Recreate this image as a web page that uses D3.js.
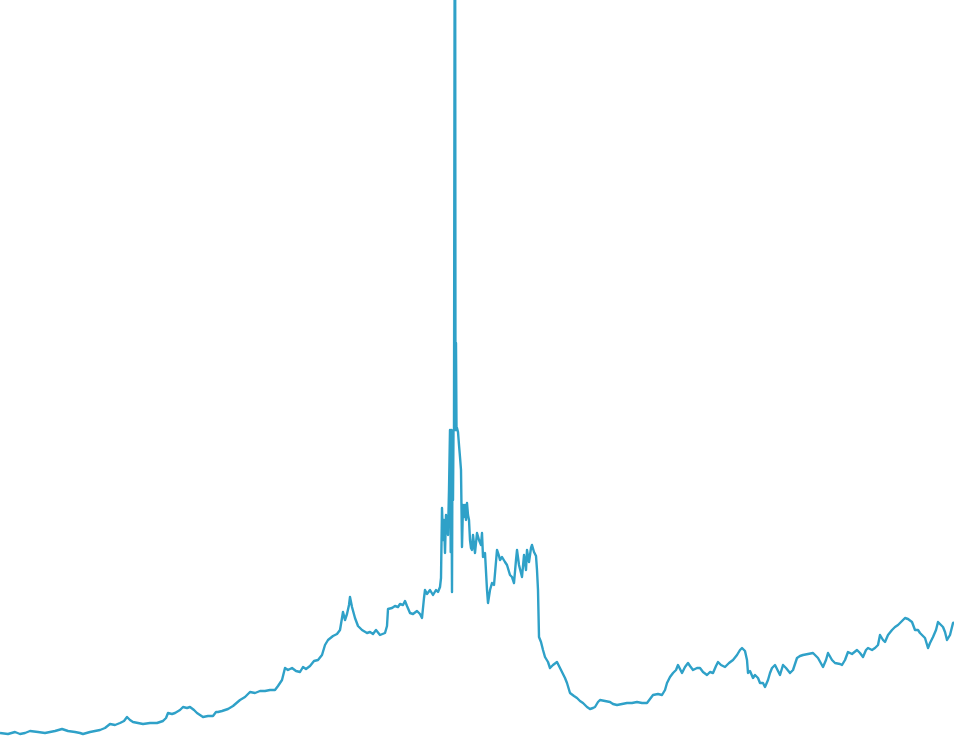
<!DOCTYPE html>
<html>
<head>
<meta charset="utf-8">
<script src="https://cdn.jsdelivr.net/npm/d3@7"></script>
<style>
  html, body { margin: 0; padding: 0; background: #ffffff; }
  svg { display: block; }
</style>
</head>
<body>
<svg id="chart" width="954" height="742"></svg>
<script>
// time index (arbitrary units)
const t = [0,8,15,20,25,30,38,45,50,55,62,68,75,80,83,90,100,105,110,115,120,124,127,130,133,138,143,150,157,163,166,168,172,175,180,183,187,190,194,197,203,208,213,216,218,222,228,233,240,245,250,255,260,265,270,275,278,282,285,288,292,296,300,303,306,310,314,318,322,325,328,333,337,340,342,343,345,347,349,350,352,355,358,362,367,370,373,376,380,385,387,388,392,395,398,400,403,405,407,410,413,417,420,422,424,425,427,430,433,436,438,440,441,442,443,444,445,446,447,448,449,450,450.7,451.3,452,452.5,453,453.5,454,455,455.5,456,456.5,457,458,459,460,461,462,463,464,465,466,467,468,469,470,471,472,473,475,477,479,481,482,483,485,487,488,490,492,494,497,499,500,502,505,507,510,512,514,516,517,519,522,524,526,527,529,531,532,534,536,537,538,539,541,543,545,548,550,553,557,560,562,565,567,570,574,577,580,583,587,590,593,595,598,600,605,610,613,617,622,627,632,637,642,647,650,653,658,662,665,667,670,673,676,678,680,682,685,688,690,693,697,700,703,707,710,713,716,718,721,725,729,733,737,740,742,745,747,748,750,753,755,758,760,763,765,768,770,772,775,778,780,783,786,790,793,797,800,803,808,813,818,823,826,828,832,835,840,842,845,848,852,857,860,863,866,868,872,875,878,880,883,885,888,892,895,898,902,905,908,912,915,918,920,923,925,928,930,933,936,938,941,943,945,947,950,953,954];

// series level (arbitrary units)
const level = [9,8,10,8,9,11,10,9,10,11,13,11,10,9,8,10,12,14,18,17,19,21,25,22,20,19,18,19,19,21,24,29,28,29,32,35,34,35,32,29,25,26,26,30,30,31,33,36,42,45,50,49,51,51,52,52,56,62,74,72,74,71,70,75,73,76,81,82,87,97,102,106,108,112,124,130,122,128,137,145,135,124,116,112,109,110,108,112,107,109,116,133,134,136,135,138,137,141,136,129,128,131,128,124,144,152,148,152,147,152,150,155,164,234,202,222,189,227,219,207,252,312,190,312,150,300,242,312,313,1050,312,399,312,314,310,297,285,272,195,237,225,237,222,239,227,222,202,194,192,207,189,209,202,197,209,185,189,152,139,152,159,157,192,186,182,185,180,177,167,165,159,182,192,177,165,187,172,192,180,194,197,190,186,172,152,105,100,92,85,80,74,77,80,74,70,64,59,49,46,44,41,39,35,33,34,35,40,42,41,40,38,37,38,39,39,40,39,39,43,47,48,47,52,59,65,69,72,77,73,69,75,79,76,72,74,74,70,67,70,69,76,80,77,75,79,82,87,92,94,91,82,69,71,64,67,64,59,59,55,62,69,74,77,71,67,77,74,69,72,84,86,87,88,89,84,75,82,89,82,79,78,77,82,90,88,92,89,85,92,94,92,94,97,107,102,100,107,112,115,117,121,124,123,120,112,112,109,106,104,94,99,105,112,120,117,115,110,102,107,119,120];

const width = 954, height = 742;
const data = t.map((d, i) => ({ t: d, v: level[i] }));

const x = d3.scaleLinear().domain([0, 954]).range([0, width]);
const y = d3.scaleLinear().domain([0, 742]).range([height, 0]);

const svg = d3.select("#chart");

const line = d3.line()
  .x(d => x(d.t))
  .y(d => y(d.v));

svg.append("path")
  .datum(data)
  .attr("fill", "none")
  .attr("stroke", "#2fa1c8")
  .attr("stroke-width", 2.4)
  .attr("stroke-linejoin", "round")
  .attr("d", line);
</script>
</body>
</html>
